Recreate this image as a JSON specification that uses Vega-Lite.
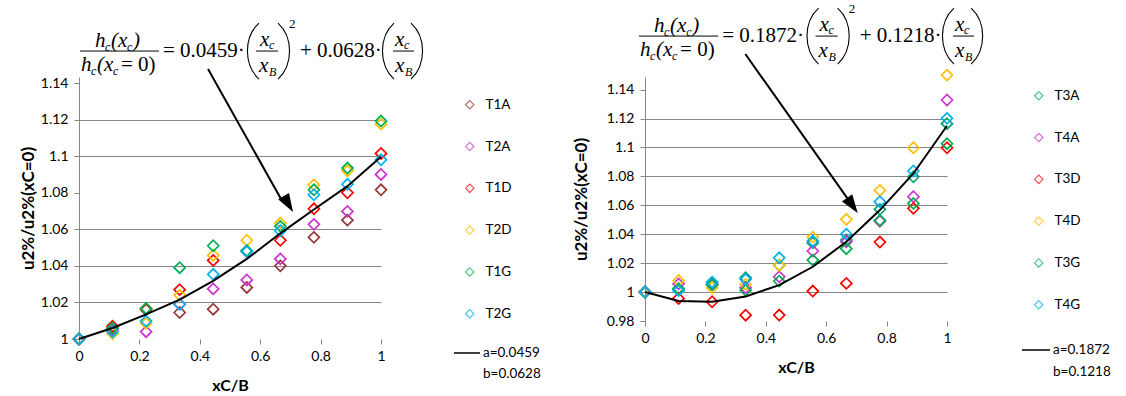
{
"$schema": "https://vega.github.io/schema/vega-lite/v6.json",
"background": "white",
"padding": {"left": 19, "top": 3, "right": 0, "bottom": 0},
"datasets": {
"left": [
{"x":0,"v":1,"s":"T1A"},{"x":0.1111,"v":1.006,"s":"T1A"},{"x":0.2222,"v":1.016,"s":"T1A"},{"x":0.3333,"v":1.0145,"s":"T1A"},{"x":0.4444,"v":1.0163,"s":"T1A"},{"x":0.5556,"v":1.0282,"s":"T1A"},{"x":0.6667,"v":1.040,"s":"T1A"},{"x":0.7778,"v":1.0556,"s":"T1A"},{"x":0.8889,"v":1.065,"s":"T1A"},{"x":1,"v":1.0816,"s":"T1A"},
{"x":0,"v":1,"s":"T2A"},{"x":0.1111,"v":1.005,"s":"T2A"},{"x":0.2222,"v":1.004,"s":"T2A"},{"x":0.3333,"v":1.019,"s":"T2A"},{"x":0.4444,"v":1.0274,"s":"T2A"},{"x":0.5556,"v":1.0323,"s":"T2A"},{"x":0.6667,"v":1.0438,"s":"T2A"},{"x":0.7778,"v":1.0627,"s":"T2A"},{"x":0.8889,"v":1.0698,"s":"T2A"},{"x":1,"v":1.090,"s":"T2A"},
{"x":0,"v":1,"s":"T1D"},{"x":0.1111,"v":1.007,"s":"T1D"},{"x":0.2222,"v":1.0165,"s":"T1D"},{"x":0.3333,"v":1.027,"s":"T1D"},{"x":0.4444,"v":1.043,"s":"T1D"},{"x":0.5556,"v":1.048,"s":"T1D"},{"x":0.6667,"v":1.054,"s":"T1D"},{"x":0.7778,"v":1.0712,"s":"T1D"},{"x":0.8889,"v":1.080,"s":"T1D"},{"x":1,"v":1.1015,"s":"T1D"},
{"x":0,"v":1,"s":"T2D"},{"x":0.1111,"v":1.003,"s":"T2D"},{"x":0.2222,"v":1.0086,"s":"T2D"},{"x":0.3333,"v":1.024,"s":"T2D"},{"x":0.4444,"v":1.0458,"s":"T2D"},{"x":0.5556,"v":1.054,"s":"T2D"},{"x":0.6667,"v":1.0634,"s":"T2D"},{"x":0.7778,"v":1.0843,"s":"T2D"},{"x":0.8889,"v":1.092,"s":"T2D"},{"x":1,"v":1.1175,"s":"T2D"},
{"x":0,"v":1,"s":"T1G"},{"x":0.1111,"v":1.006,"s":"T1G"},{"x":0.2222,"v":1.0167,"s":"T1G"},{"x":0.3333,"v":1.039,"s":"T1G"},{"x":0.4444,"v":1.051,"s":"T1G"},{"x":0.5556,"v":1.0483,"s":"T1G"},{"x":0.6667,"v":1.0616,"s":"T1G"},{"x":0.7778,"v":1.0816,"s":"T1G"},{"x":0.8889,"v":1.0935,"s":"T1G"},{"x":1,"v":1.1192,"s":"T1G"},
{"x":0,"v":1,"s":"T2G"},{"x":0.1111,"v":1.004,"s":"T2G"},{"x":0.2222,"v":1.0098,"s":"T2G"},{"x":0.3333,"v":1.019,"s":"T2G"},{"x":0.4444,"v":1.0354,"s":"T2G"},{"x":0.5556,"v":1.0478,"s":"T2G"},{"x":0.6667,"v":1.0592,"s":"T2G"},{"x":0.7778,"v":1.0789,"s":"T2G"},{"x":0.8889,"v":1.0846,"s":"T2G"},{"x":1,"v":1.098,"s":"T2G"}
],
"right": [
{"x":0,"v":1,"s":"T3A"},{"x":0.1111,"v":1.0025,"s":"T3A"},{"x":0.2222,"v":1.006,"s":"T3A"},{"x":0.3333,"v":1.0099,"s":"T3A"},{"x":0.4444,"v":1.0185,"s":"T3A"},{"x":0.5556,"v":1.034,"s":"T3A"},{"x":0.6667,"v":1.036,"s":"T3A"},{"x":0.7778,"v":1.0572,"s":"T3A"},{"x":0.8889,"v":1.0797,"s":"T3A"},{"x":1,"v":1.1164,"s":"T3A"},
{"x":0,"v":1,"s":"T4A"},{"x":0.1111,"v":1.0057,"s":"T4A"},{"x":0.2222,"v":1.005,"s":"T4A"},{"x":0.3333,"v":1.003,"s":"T4A"},{"x":0.4444,"v":1.0106,"s":"T4A"},{"x":0.5556,"v":1.0284,"s":"T4A"},{"x":0.6667,"v":1.0348,"s":"T4A"},{"x":0.7778,"v":1.049,"s":"T4A"},{"x":0.8889,"v":1.0659,"s":"T4A"},{"x":1,"v":1.1328,"s":"T4A"},
{"x":0,"v":1,"s":"T3D"},{"x":0.1111,"v":0.9956,"s":"T3D"},{"x":0.2222,"v":0.9933,"s":"T3D"},{"x":0.3333,"v":0.984,"s":"T3D"},{"x":0.4444,"v":0.9841,"s":"T3D"},{"x":0.5556,"v":1.0007,"s":"T3D"},{"x":0.6667,"v":1.006,"s":"T3D"},{"x":0.7778,"v":1.0346,"s":"T3D"},{"x":0.8889,"v":1.0579,"s":"T3D"},{"x":1,"v":1.0998,"s":"T3D"},
{"x":0,"v":1,"s":"T4D"},{"x":0.1111,"v":1.008,"s":"T4D"},{"x":0.2222,"v":1.003,"s":"T4D"},{"x":0.3333,"v":1.0053,"s":"T4D"},{"x":0.4444,"v":1.0185,"s":"T4D"},{"x":0.5556,"v":1.038,"s":"T4D"},{"x":0.6667,"v":1.0503,"s":"T4D"},{"x":0.7778,"v":1.0703,"s":"T4D"},{"x":0.8889,"v":1.0998,"s":"T4D"},{"x":1,"v":1.150,"s":"T4D"},
{"x":0,"v":1,"s":"T3G"},{"x":0.1111,"v":1.002,"s":"T3G"},{"x":0.2222,"v":1.005,"s":"T3G"},{"x":0.3333,"v":1.0012,"s":"T3G"},{"x":0.4444,"v":1.0076,"s":"T3G"},{"x":0.5556,"v":1.0221,"s":"T3G"},{"x":0.6667,"v":1.030,"s":"T3G"},{"x":0.7778,"v":1.0496,"s":"T3G"},{"x":0.8889,"v":1.0613,"s":"T3G"},{"x":1,"v":1.1026,"s":"T3G"},
{"x":0,"v":1,"s":"T4G"},{"x":0.1111,"v":1.001,"s":"T4G"},{"x":0.2222,"v":1.0069,"s":"T4G"},{"x":0.3333,"v":1.0088,"s":"T4G"},{"x":0.4444,"v":1.0237,"s":"T4G"},{"x":0.5556,"v":1.0353,"s":"T4G"},{"x":0.6667,"v":1.040,"s":"T4G"},{"x":0.7778,"v":1.0625,"s":"T4G"},{"x":0.8889,"v":1.0837,"s":"T4G"},{"x":1,"v":1.1201,"s":"T4G"}
],
"fitLeft": [
{"x":0,"v":1},{"x":0.1111,"v":1.006},{"x":0.2222,"v":1.0135},{"x":0.3333,"v":1.0215},{"x":0.4444,"v":1.0318},{"x":0.5556,"v":1.0438},{"x":0.6667,"v":1.0578},{"x":0.7778,"v":1.0708},{"x":0.8889,"v":1.0836},{"x":1,"v":1.0997}
],
"fitRight": [
{"x":0,"v":1},{"x":0.1111,"v":0.9938},{"x":0.2222,"v":0.9933},{"x":0.3333,"v":0.997},{"x":0.4444,"v":1.0048},{"x":0.5556,"v":1.0175},{"x":0.6667,"v":1.0348},{"x":0.7778,"v":1.0567},{"x":0.8889,"v":1.082},{"x":1,"v":1.115}
]
},
"config": {
"view": {"stroke": null},
"font": "Lato",
"axis": {"labelFont": "Lato", "labelFontSize": 14, "labelColor": "#000000", "titleFont": "Lato", "titleFontSize": 16, "titleFontWeight": "bold", "titleColor": "#000000", "tickColor": "#868686", "domainColor": "#868686", "gridColor": "#868686", "tickSize": 5, "labelOverlap": false, "labelFlush": false},
"legend": {"labelFont": "Lato", "labelFontSize": 13.5, "labelColor": "#000000", "padding": 0}
},
"resolve": {"scale": {"color": "independent", "stroke": "independent"}, "legend": {"color": "independent", "stroke": "independent"}},
"spacing": 264,
"bounds": "flush",
"hconcat": [
{
"width": 302, "height": 262,
"data": {"values": [{}]},
"layer": [
{"data": {"name": "left"},
 "mark": {"type": "point", "shape": "diamond", "filled": false, "size": 121, "strokeWidth": 1.7, "opacity": 1},
 "encoding": {
  "x": {"field": "x", "type": "quantitative", "scale": {"domain": [0, 1], "nice": false}, "axis": {"values": [0, 0.2, 0.4, 0.6, 0.8, 1], "format": "~g", "grid": false, "domain": false, "title": "xC/B", "labelPadding": 5, "titlePadding": 14}},
  "y": {"field": "v", "type": "quantitative", "scale": {"domain": [1, 1.1433], "nice": false, "zero": false}, "axis": {"values": [1, 1.02, 1.04, 1.06, 1.08, 1.1, 1.12, 1.14], "tickCount": 20, "format": "~g", "grid": true, "gridOpacity": {"condition": {"test": "datum.value < 1.001 || abs(datum.value - 1.08) < 0.001 || datum.value > 1.139", "value": 0}, "value": 1}, "title": "u2%/u2%(xC=0)", "titleFontSize": 17, "titleX": -42, "labelPadding": 6}},
  "color": {"field": "s", "type": "nominal", "scale": {"domain": ["T1A", "T2A", "T1D", "T2D", "T1G", "T2G"], "range": ["#953735", "#CC33CC", "#FF0000", "#FFC000", "#00B050", "#00B0F0"]},
   "legend": {"orient": "none", "legendX": 384, "legendY": 21, "title": null, "symbolType": "diamond", "symbolSize": 70, "symbolStrokeWidth": 1.2, "symbolOpacity": 0.7, "rowPadding": 26.8, "labelOffset": 9}}
 }},
{"data": {"name": "fitLeft"},
 "mark": {"type": "line", "strokeWidth": 2},
 "encoding": {
  "x": {"field": "x", "type": "quantitative"},
  "y": {"field": "v", "type": "quantitative"},
  "stroke": {"datum": "a=0.0459", "scale": {"domain": ["a=0.0459", "b=0.0628"], "range": ["#000000", "rgba(0,0,0,0)"]}, "legend": {"orient": "none", "legendX": 374, "legendY": 262, "title": null, "symbolType": "stroke", "symbolSize": 676, "symbolStrokeWidth": 1.5, "labelOffset": 2, "rowPadding": -1}}
 }},
{"mark": {"type": "rule", "color": "black", "strokeWidth": 2}, "encoding": {"x": {"datum": 0.4272}, "y": {"datum": 1.1477}, "x2": {"datum": 0.6675}, "y2": {"datum": 1.0770}}},
{"mark": {"type": "point", "shape": "M0,-1L0.55,0.6L-0.55,0.6Z", "filled": true, "color": "black", "opacity": 1, "size": 529, "angle": 149.2}, "encoding": {"x": {"datum": 0.6891}, "y": {"datum": 1.0749}}},
{"mark": {"type": "text", "text": "h", "font": "Liberation Serif", "fontSize": 21, "fontStyle": "italic", "align": "left", "baseline": "alphabetic", "color": "black"}, "encoding": {"x": {"datum": 0.0530}, "y": {"datum": 1.1597}}},
{"mark": {"type": "text", "text": "c", "font": "Liberation Serif", "fontSize": 12, "fontStyle": "italic", "align": "left", "baseline": "alphabetic", "color": "black"}, "encoding": {"x": {"datum": 0.0861}, "y": {"datum": 1.1575}}},
{"mark": {"type": "text", "text": "(x", "font": "Liberation Serif", "fontSize": 21, "fontStyle": "italic", "align": "left", "baseline": "alphabetic", "color": "black"}, "encoding": {"x": {"datum": 0.1060}, "y": {"datum": 1.1597}}},
{"mark": {"type": "text", "text": "c", "font": "Liberation Serif", "fontSize": 12, "fontStyle": "italic", "align": "left", "baseline": "alphabetic", "color": "black"}, "encoding": {"x": {"datum": 0.1589}, "y": {"datum": 1.1575}}},
{"mark": {"type": "text", "text": ")", "font": "Liberation Serif", "fontSize": 21, "fontStyle": "italic", "align": "left", "baseline": "alphabetic", "color": "black"}, "encoding": {"x": {"datum": 0.1788}, "y": {"datum": 1.1597}}},
{"mark": {"type": "text", "text": "h", "font": "Liberation Serif", "fontSize": 21, "fontStyle": "italic", "align": "left", "baseline": "alphabetic", "color": "black"}, "encoding": {"x": {"datum": 0.0066}, "y": {"datum": 1.1466}}},
{"mark": {"type": "text", "text": "c", "font": "Liberation Serif", "fontSize": 12, "fontStyle": "italic", "align": "left", "baseline": "alphabetic", "color": "black"}, "encoding": {"x": {"datum": 0.0397}, "y": {"datum": 1.1444}}},
{"mark": {"type": "text", "text": "(x", "font": "Liberation Serif", "fontSize": 21, "fontStyle": "italic", "align": "left", "baseline": "alphabetic", "color": "black"}, "encoding": {"x": {"datum": 0.0596}, "y": {"datum": 1.1466}}},
{"mark": {"type": "text", "text": "c", "font": "Liberation Serif", "fontSize": 12, "fontStyle": "italic", "align": "left", "baseline": "alphabetic", "color": "black"}, "encoding": {"x": {"datum": 0.1126}, "y": {"datum": 1.1444}}},
{"mark": {"type": "text", "text": "= 0)", "font": "Liberation Serif", "fontSize": 21, "align": "left", "baseline": "alphabetic", "color": "black"}, "encoding": {"x": {"datum": 0.1391}, "y": {"datum": 1.1466}}},
{"mark": {"type": "rule", "color": "black", "strokeWidth": 1}, "encoding": {"x": {"datum": 0.0033}, "x2": {"datum": 0.2649}, "y": {"datum": 1.1575}}},
{"mark": {"type": "text", "text": "= 0.0459·", "font": "Liberation Serif", "fontSize": 21, "align": "left", "baseline": "alphabetic", "color": "black"}, "encoding": {"x": {"datum": 0.2781}, "y": {"datum": 1.1542}}},
{"mark": {"type": "point", "shape": "M0.25,-1C-0.3,-0.5,-0.3,0.5,0.25,1", "filled": false, "color": "black", "strokeWidth": 1.1, "opacity": 1, "size": 3136}, "encoding": {"x": {"datum": 0.5728}, "y": {"datum": 1.1575}}},
{"mark": {"type": "text", "text": "x", "font": "Liberation Serif", "fontSize": 21, "fontStyle": "italic", "align": "left", "baseline": "alphabetic", "color": "black"}, "encoding": {"x": {"datum": 0.5993}, "y": {"datum": 1.1602}}},
{"mark": {"type": "text", "text": "c", "font": "Liberation Serif", "fontSize": 12, "fontStyle": "italic", "align": "left", "baseline": "alphabetic", "color": "black"}, "encoding": {"x": {"datum": 0.6291}, "y": {"datum": 1.1586}}},
{"mark": {"type": "rule", "color": "black", "strokeWidth": 1}, "encoding": {"x": {"datum": 0.5861}, "x2": {"datum": 0.6589}, "y": {"datum": 1.1575}}},
{"mark": {"type": "text", "text": "x", "font": "Liberation Serif", "fontSize": 21, "fontStyle": "italic", "align": "left", "baseline": "alphabetic", "color": "black"}, "encoding": {"x": {"datum": 0.5960}, "y": {"datum": 1.1460}}},
{"mark": {"type": "text", "text": "B", "font": "Liberation Serif", "fontSize": 12, "fontStyle": "italic", "align": "left", "baseline": "alphabetic", "color": "black"}, "encoding": {"x": {"datum": 0.6291}, "y": {"datum": 1.1438}}},
{"mark": {"type": "point", "shape": "M-0.25,-1C0.3,-0.5,0.3,0.5,-0.25,1", "filled": false, "color": "black", "strokeWidth": 1.1, "opacity": 1, "size": 3136}, "encoding": {"x": {"datum": 0.6821}, "y": {"datum": 1.1575}}},
{"mark": {"type": "text", "text": "2", "font": "Liberation Serif", "fontSize": 13, "align": "left", "baseline": "alphabetic", "color": "black"}, "encoding": {"x": {"datum": 0.6954}, "y": {"datum": 1.1701}}},
{"mark": {"type": "text", "text": "+ 0.0628·", "font": "Liberation Serif", "fontSize": 21, "align": "left", "baseline": "alphabetic", "color": "black"}, "encoding": {"x": {"datum": 0.7318}, "y": {"datum": 1.1542}}},
{"mark": {"type": "point", "shape": "M0.25,-1C-0.3,-0.5,-0.3,0.5,0.25,1", "filled": false, "color": "black", "strokeWidth": 1.1, "opacity": 1, "size": 3136}, "encoding": {"x": {"datum": 1.0199}, "y": {"datum": 1.1575}}},
{"mark": {"type": "text", "text": "x", "font": "Liberation Serif", "fontSize": 21, "fontStyle": "italic", "align": "left", "baseline": "alphabetic", "color": "black"}, "encoding": {"x": {"datum": 1.0464}, "y": {"datum": 1.1602}}},
{"mark": {"type": "text", "text": "c", "font": "Liberation Serif", "fontSize": 12, "fontStyle": "italic", "align": "left", "baseline": "alphabetic", "color": "black"}, "encoding": {"x": {"datum": 1.0762}, "y": {"datum": 1.1586}}},
{"mark": {"type": "rule", "color": "black", "strokeWidth": 1}, "encoding": {"x": {"datum": 1.0397}, "x2": {"datum": 1.1093}, "y": {"datum": 1.1575}}},
{"mark": {"type": "text", "text": "x", "font": "Liberation Serif", "fontSize": 21, "fontStyle": "italic", "align": "left", "baseline": "alphabetic", "color": "black"}, "encoding": {"x": {"datum": 1.0464}, "y": {"datum": 1.1460}}},
{"mark": {"type": "text", "text": "B", "font": "Liberation Serif", "fontSize": 12, "fontStyle": "italic", "align": "left", "baseline": "alphabetic", "color": "black"}, "encoding": {"x": {"datum": 1.0795}, "y": {"datum": 1.1438}}},
{"mark": {"type": "point", "shape": "M-0.25,-1C0.3,-0.5,0.3,0.5,-0.25,1", "filled": false, "color": "black", "strokeWidth": 1.1, "opacity": 1, "size": 3136}, "encoding": {"x": {"datum": 1.1225}, "y": {"datum": 1.1575}}}
]
},
{
"width": 302, "height": 244,
"data": {"values": [{}]},
"layer": [
{"data": {"name": "right"},
 "mark": {"type": "point", "shape": "diamond", "filled": false, "size": 121, "strokeWidth": 1.7, "opacity": 1},
 "encoding": {
  "x": {"field": "x", "type": "quantitative", "scale": {"domain": [0, 1], "nice": false}, "axis": {"values": [0, 0.2, 0.4, 0.6, 0.8, 1], "format": "~g", "grid": false, "domain": false, "title": "xC/B", "labelPadding": 5, "titlePadding": 14}},
  "y": {"field": "v", "type": "quantitative", "scale": {"domain": [0.98, 1.1487], "nice": false, "zero": false}, "axis": {"values": [0.98, 1, 1.02, 1.04, 1.06, 1.08, 1.1, 1.12, 1.14], "tickCount": 20, "format": "~g", "grid": true, "gridOpacity": {"condition": {"test": "datum.value < 0.99 || datum.value > 1.139", "value": 0}, "value": 1}, "title": "u2%/u2%(xC=0)", "titleFontSize": 17, "titleX": -55, "labelPadding": 6}},
  "color": {"field": "s", "type": "nominal", "scale": {"domain": ["T3A", "T4A", "T3D", "T4D", "T3G", "T4G"], "range": ["#00A86B", "#CC33CC", "#FF0000", "#FFC000", "#00B050", "#00B0F0"]},
   "legend": {"orient": "none", "legendX": 387, "legendY": 12, "title": null, "symbolType": "diamond", "symbolSize": 70, "symbolStrokeWidth": 1.2, "symbolOpacity": 0.7, "rowPadding": 26.8, "labelOffset": 9}}
 }},
{"data": {"name": "fitRight"},
 "mark": {"type": "line", "strokeWidth": 2},
 "encoding": {
  "x": {"field": "x", "type": "quantitative"},
  "y": {"field": "v", "type": "quantitative"},
  "stroke": {"datum": "a=0.1872", "scale": {"domain": ["a=0.1872", "b=0.1218"], "range": ["#000000", "rgba(0,0,0,0)"]}, "legend": {"orient": "none", "legendX": 376, "legendY": 258, "title": null, "symbolType": "stroke", "symbolSize": 784, "symbolStrokeWidth": 1.5, "labelOffset": 2, "rowPadding": -1}}
 }},
{"mark": {"type": "rule", "color": "black", "strokeWidth": 2}, "encoding": {"x": {"datum": 0.3322}, "y": {"datum": 1.1646}, "x2": {"datum": 0.6738}, "y2": {"datum": 1.0637}}},
{"mark": {"type": "point", "shape": "M0,-1L0.55,0.6L-0.55,0.6Z", "filled": true, "color": "black", "opacity": 1, "size": 529, "angle": 144.8}, "encoding": {"x": {"datum": 0.6824}, "y": {"datum": 1.0612}}},
{"mark": {"type": "text", "text": "h", "font": "Liberation Serif", "fontSize": 21, "fontStyle": "italic", "align": "left", "baseline": "alphabetic", "color": "black"}, "encoding": {"x": {"datum": 0.0299}, "y": {"datum": 1.1798}}},
{"mark": {"type": "text", "text": "c", "font": "Liberation Serif", "fontSize": 12, "fontStyle": "italic", "align": "left", "baseline": "alphabetic", "color": "black"}, "encoding": {"x": {"datum": 0.0631}, "y": {"datum": 1.1770}}},
{"mark": {"type": "text", "text": "(x", "font": "Liberation Serif", "fontSize": 21, "fontStyle": "italic", "align": "left", "baseline": "alphabetic", "color": "black"}, "encoding": {"x": {"datum": 0.0831}, "y": {"datum": 1.1798}}},
{"mark": {"type": "text", "text": "c", "font": "Liberation Serif", "fontSize": 12, "fontStyle": "italic", "align": "left", "baseline": "alphabetic", "color": "black"}, "encoding": {"x": {"datum": 0.1362}, "y": {"datum": 1.1770}}},
{"mark": {"type": "text", "text": ")", "font": "Liberation Serif", "fontSize": 21, "fontStyle": "italic", "align": "left", "baseline": "alphabetic", "color": "black"}, "encoding": {"x": {"datum": 0.1561}, "y": {"datum": 1.1798}}},
{"mark": {"type": "text", "text": "h", "font": "Liberation Serif", "fontSize": 21, "fontStyle": "italic", "align": "left", "baseline": "alphabetic", "color": "black"}, "encoding": {"x": {"datum": -0.0166}, "y": {"datum": 1.1632}}},
{"mark": {"type": "text", "text": "c", "font": "Liberation Serif", "fontSize": 12, "fontStyle": "italic", "align": "left", "baseline": "alphabetic", "color": "black"}, "encoding": {"x": {"datum": 0.0166}, "y": {"datum": 1.1604}}},
{"mark": {"type": "text", "text": "(x", "font": "Liberation Serif", "fontSize": 21, "fontStyle": "italic", "align": "left", "baseline": "alphabetic", "color": "black"}, "encoding": {"x": {"datum": 0.0365}, "y": {"datum": 1.1632}}},
{"mark": {"type": "text", "text": "c", "font": "Liberation Serif", "fontSize": 12, "fontStyle": "italic", "align": "left", "baseline": "alphabetic", "color": "black"}, "encoding": {"x": {"datum": 0.0897}, "y": {"datum": 1.1604}}},
{"mark": {"type": "text", "text": "= 0)", "font": "Liberation Serif", "fontSize": 21, "align": "left", "baseline": "alphabetic", "color": "black"}, "encoding": {"x": {"datum": 0.1163}, "y": {"datum": 1.1632}}},
{"mark": {"type": "rule", "color": "black", "strokeWidth": 1}, "encoding": {"x": {"datum": -0.0199}, "x2": {"datum": 0.2425}, "y": {"datum": 1.1770}}},
{"mark": {"type": "text", "text": "= 0.1872·", "font": "Liberation Serif", "fontSize": 21, "align": "left", "baseline": "alphabetic", "color": "black"}, "encoding": {"x": {"datum": 0.2558}, "y": {"datum": 1.1729}}},
{"mark": {"type": "point", "shape": "M0.25,-1C-0.3,-0.5,-0.3,0.5,0.25,1", "filled": false, "color": "black", "strokeWidth": 1.1, "opacity": 1, "size": 3136}, "encoding": {"x": {"datum": 0.5515}, "y": {"datum": 1.1770}}},
{"mark": {"type": "text", "text": "x", "font": "Liberation Serif", "fontSize": 21, "fontStyle": "italic", "align": "left", "baseline": "alphabetic", "color": "black"}, "encoding": {"x": {"datum": 0.5781}, "y": {"datum": 1.1805}}},
{"mark": {"type": "text", "text": "c", "font": "Liberation Serif", "fontSize": 12, "fontStyle": "italic", "align": "left", "baseline": "alphabetic", "color": "black"}, "encoding": {"x": {"datum": 0.6080}, "y": {"datum": 1.1784}}},
{"mark": {"type": "rule", "color": "black", "strokeWidth": 1}, "encoding": {"x": {"datum": 0.5648}, "x2": {"datum": 0.6379}, "y": {"datum": 1.1770}}},
{"mark": {"type": "text", "text": "x", "font": "Liberation Serif", "fontSize": 21, "fontStyle": "italic", "align": "left", "baseline": "alphabetic", "color": "black"}, "encoding": {"x": {"datum": 0.5748}, "y": {"datum": 1.1625}}},
{"mark": {"type": "text", "text": "B", "font": "Liberation Serif", "fontSize": 12, "fontStyle": "italic", "align": "left", "baseline": "alphabetic", "color": "black"}, "encoding": {"x": {"datum": 0.6080}, "y": {"datum": 1.1598}}},
{"mark": {"type": "point", "shape": "M-0.25,-1C0.3,-0.5,0.3,0.5,-0.25,1", "filled": false, "color": "black", "strokeWidth": 1.1, "opacity": 1, "size": 3136}, "encoding": {"x": {"datum": 0.6611}, "y": {"datum": 1.1770}}},
{"mark": {"type": "text", "text": "2", "font": "Liberation Serif", "fontSize": 13, "align": "left", "baseline": "alphabetic", "color": "black"}, "encoding": {"x": {"datum": 0.6744}, "y": {"datum": 1.1929}}},
{"mark": {"type": "text", "text": "+ 0.1218·", "font": "Liberation Serif", "fontSize": 21, "align": "left", "baseline": "alphabetic", "color": "black"}, "encoding": {"x": {"datum": 0.7110}, "y": {"datum": 1.1729}}},
{"mark": {"type": "point", "shape": "M0.25,-1C-0.3,-0.5,-0.3,0.5,0.25,1", "filled": false, "color": "black", "strokeWidth": 1.1, "opacity": 1, "size": 3136}, "encoding": {"x": {"datum": 1.0000}, "y": {"datum": 1.1770}}},
{"mark": {"type": "text", "text": "x", "font": "Liberation Serif", "fontSize": 21, "fontStyle": "italic", "align": "left", "baseline": "alphabetic", "color": "black"}, "encoding": {"x": {"datum": 1.0266}, "y": {"datum": 1.1805}}},
{"mark": {"type": "text", "text": "c", "font": "Liberation Serif", "fontSize": 12, "fontStyle": "italic", "align": "left", "baseline": "alphabetic", "color": "black"}, "encoding": {"x": {"datum": 1.0565}, "y": {"datum": 1.1784}}},
{"mark": {"type": "rule", "color": "black", "strokeWidth": 1}, "encoding": {"x": {"datum": 1.0199}, "x2": {"datum": 1.0897}, "y": {"datum": 1.1770}}},
{"mark": {"type": "text", "text": "x", "font": "Liberation Serif", "fontSize": 21, "fontStyle": "italic", "align": "left", "baseline": "alphabetic", "color": "black"}, "encoding": {"x": {"datum": 1.0266}, "y": {"datum": 1.1625}}},
{"mark": {"type": "text", "text": "B", "font": "Liberation Serif", "fontSize": 12, "fontStyle": "italic", "align": "left", "baseline": "alphabetic", "color": "black"}, "encoding": {"x": {"datum": 1.0598}, "y": {"datum": 1.1598}}},
{"mark": {"type": "point", "shape": "M-0.25,-1C0.3,-0.5,0.3,0.5,-0.25,1", "filled": false, "color": "black", "strokeWidth": 1.1, "opacity": 1, "size": 3136}, "encoding": {"x": {"datum": 1.1030}, "y": {"datum": 1.1770}}}
]
}
]
}
